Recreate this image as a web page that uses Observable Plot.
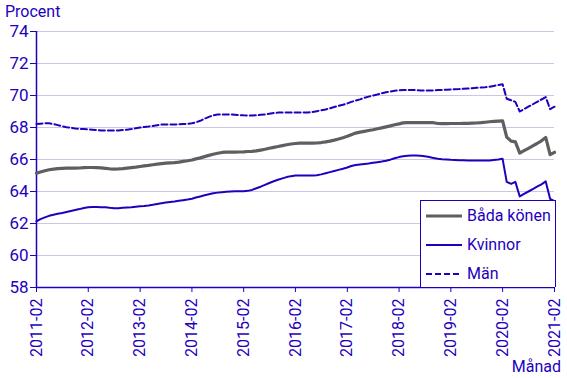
<!DOCTYPE html>
<html>
<head>
<meta charset="utf-8">
<script src="https://cdn.jsdelivr.net/npm/d3@7"></script>
<script src="https://cdn.jsdelivr.net/npm/@observablehq/plot@0.6"></script>
<style>
  html, body { margin: 0; padding: 0; background: #fff; }
  #wrap { position: relative; width: 567px; height: 378px; font-family: Roboto, sans-serif; color: #1e00be; }
  #wrap > svg { position: absolute; left: 0; top: 0; }
  .lbl { position: absolute; font-size: 16px; line-height: 1; white-space: nowrap; }
  #legend { position: absolute; left: 420px; top: 200px; width: 134px; height: 86px; border: 1px solid #1e00be; border-bottom: none; background: #fff; }
  .row { position: absolute; left: 5px; height: 20px; display: flex; align-items: center; font-size: 16px; line-height: 1; }
  .row svg { margin-right: 5px; display: block; }
</style>
</head>
<body>
<div id="wrap"></div>
<script>
const startMonth = "2011-02";
const seriesNames = ["Båda könen", "Kvinnor", "Män"];
const tickLabels = ["2011-02","2012-02","2013-02","2014-02","2015-02","2016-02","2017-02","2018-02","2019-02","2020-02","2021-02"];
const yTicks = [58, 60, 62, 64, 66, 68, 70, 72, 74];

const badaKonen = [
65.15,65.22,65.30,65.36,65.40,65.43,65.45,65.46,65.46,65.46,65.47,65.49,
65.50,65.50,65.49,65.48,65.45,65.42,65.40,65.41,65.43,65.46,65.49,65.52,
65.56,65.60,65.63,65.67,65.71,65.74,65.77,65.79,65.81,65.84,65.88,65.92,
65.97,66.04,66.10,66.18,66.26,66.33,66.39,66.44,66.46,66.46,66.46,66.47,
66.48,66.50,66.51,66.54,66.59,66.64,66.70,66.76,66.81,66.87,66.92,66.97,
67.00,67.02,67.02,67.02,67.02,67.03,67.06,67.10,67.15,67.21,67.28,67.36,
67.45,67.55,67.65,67.71,67.76,67.81,67.86,67.92,67.98,68.04,68.10,68.17,
68.23,68.29,68.31,68.31,68.31,68.31,68.31,68.31,68.30,68.25,68.24,68.24,
68.25,68.25,68.25,68.26,68.26,68.27,68.28,68.30,68.33,68.36,68.38,68.40,
68.42,67.40,67.15,67.10,66.40,66.55,66.70,66.85,67.00,67.17,67.38,66.30,
66.45];

const kvinnor = [
62.14,62.27,62.38,62.48,62.55,62.61,62.66,62.72,62.78,62.84,62.90,62.97,
63.02,63.03,63.03,63.02,63.01,62.98,62.96,62.96,62.98,63.00,63.02,63.05,
63.08,63.10,63.13,63.17,63.22,63.27,63.31,63.35,63.38,63.42,63.46,63.50,
63.55,63.62,63.69,63.76,63.83,63.89,63.93,63.96,63.98,64.00,64.01,64.02,
64.02,64.04,64.10,64.20,64.30,64.41,64.53,64.64,64.73,64.82,64.90,64.96,
65.00,65.00,65.00,65.00,65.00,65.02,65.07,65.14,65.21,65.28,65.35,65.42,
65.50,65.59,65.66,65.69,65.72,65.75,65.79,65.83,65.87,65.92,65.99,66.08,
66.15,66.20,66.23,66.25,66.25,66.23,66.20,66.15,66.10,66.05,66.02,66.00,
65.98,65.97,65.96,65.95,65.94,65.94,65.94,65.94,65.94,65.94,65.97,66.00,
66.04,64.60,64.48,64.60,63.69,63.85,64.00,64.15,64.30,64.45,64.63,63.54,
63.40];

const man = [
68.22,68.24,68.26,68.26,68.22,68.15,68.08,68.02,67.98,67.94,67.92,67.90,
67.88,67.86,67.84,67.82,67.81,67.81,67.81,67.82,67.84,67.86,67.90,67.95,
68.00,68.03,68.06,68.10,68.14,68.18,68.19,68.19,68.19,68.20,68.22,68.23,
68.26,68.32,68.42,68.55,68.66,68.76,68.81,68.82,68.82,68.81,68.80,68.78,
68.76,68.75,68.75,68.76,68.79,68.82,68.86,68.90,68.93,68.94,68.94,68.94,
68.94,68.94,68.94,68.94,68.97,69.02,69.07,69.13,69.20,69.28,69.35,69.42,
69.50,69.60,69.68,69.76,69.85,69.93,70.00,70.06,70.13,70.20,70.25,70.30,
70.33,70.35,70.35,70.35,70.34,70.32,70.31,70.31,70.32,70.34,70.35,70.36,
70.37,70.39,70.40,70.42,70.44,70.46,70.48,70.50,70.52,70.55,70.60,70.65,
70.70,69.80,69.70,69.60,69.00,69.15,69.30,69.45,69.60,69.75,69.90,69.15,
69.30];

const BLUE = "#1e00be";
const GRAY = "#5f5f5f";
const GRID = "#cac6e4";

const parse = d3.utcParse("%Y-%m");
const start = parse(startMonth);
const monthDate = i => d3.utcMonth.offset(start, i);
const rows = [];
[badaKonen, kvinnor, man].forEach((arr, s) => arr.forEach((v, i) => rows.push({date: monthDate(i), value: v, series: seriesNames[s]})));
const tickDates = tickLabels.map(parse);
const xDomain = [tickDates[0], tickDates[tickDates.length - 1]];

const chart = Plot.plot({
  width: 567,
  height: 378,
  marginLeft: 36,
  marginRight: 13,
  marginTop: 31,
  marginBottom: 91,
  style: {fontFamily: "Roboto, sans-serif", fontSize: "16px", color: BLUE, background: "transparent"},
  x: {type: "utc", domain: xDomain, label: null},
  y: {domain: [58, 74], label: null},
  marks: [
    Plot.gridY(yTicks.filter(t => t > 58), {stroke: GRID, strokeOpacity: 1, strokeWidth: 1}),
    Plot.ruleX([xDomain[0]], {stroke: BLUE, strokeWidth: 1.5}),
    Plot.ruleY([58], {stroke: BLUE, strokeWidth: 1.5}),
    Plot.axisY({ticks: yTicks, tickSize: 6, tickPadding: 2, stroke: BLUE, fill: BLUE, fontSize: 17}),
    Plot.axisX({ticks: tickDates, tickFormat: d3.utcFormat("%Y-%m"), tickRotate: -90, tickSize: 5, tickPadding: 6, stroke: BLUE, fill: BLUE, fontSize: 16}),
    Plot.line(rows.filter(d => d.series === "Män"), {x: "date", y: "value", stroke: BLUE, strokeWidth: 2, strokeDasharray: "6,3"}),
    Plot.line(rows.filter(d => d.series === "Kvinnor"), {x: "date", y: "value", stroke: BLUE, strokeWidth: 2}),
    Plot.line(rows.filter(d => d.series === "Båda könen"), {x: "date", y: "value", stroke: GRAY, strokeWidth: 3.2})
  ]
});

const wrap = document.getElementById("wrap");
wrap.appendChild(chart);

const p = document.createElement("div");
p.className = "lbl"; p.textContent = "Procent";
p.style.left = "5px"; p.style.top = "4px";
wrap.appendChild(p);

const m = document.createElement("div");
m.className = "lbl"; m.textContent = "Månad";
m.style.right = "6px"; m.style.top = "359px";
wrap.appendChild(m);

const legend = document.createElement("div");
legend.id = "legend";
const styles = [
  {stroke: GRAY, w: 3.2, dash: null},
  {stroke: BLUE, w: 2, dash: null},
  {stroke: BLUE, w: 2, dash: "6,3"}
];
seriesNames.forEach((name, k) => {
  const r = document.createElement("div");
  r.className = "row";
  r.style.top = (5 + k * 29) + "px";
  const s = styles[k];
  r.innerHTML = `<svg width="36" height="10"><line x1="0" x2="36" y1="5" y2="5" stroke="${s.stroke}" stroke-width="${s.w}" ${s.dash ? `stroke-dasharray="${s.dash}"` : ""}/></svg><span>${name}</span>`;
  legend.appendChild(r);
});
wrap.appendChild(legend);
</script>
</body>
</html>
